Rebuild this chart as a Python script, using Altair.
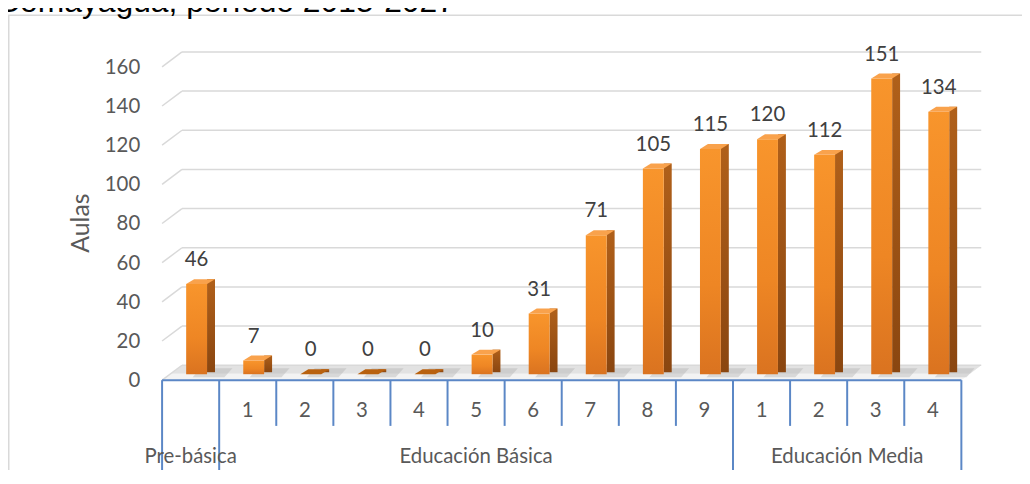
import altair as alt
import pandas as pd

# ---------------- data ----------------
categories = ["", "1", "2", "3", "4", "5", "6", "7", "8", "9", "1", "2", "3", "4"]
groups = ["Pre-básica"] + ["Educación Básica"] * 9 + ["Educación Media"] * 4
values = [46, 7, 0, 0, 0, 10, 31, 71, 105, 115, 120, 112, 151, 134]
y_ticks = [0, 20, 40, 60, 80, 100, 120, 140, 160]
title_text = "Comayagua, período 2015-2027"
y_title = "Aulas"

# ---------------- layout (pixels inside the chart) ----------------
W, H = 1020, 462
X_LEFT, X_RIGHT = 155, 959      # front edge of the floor
Y_ZERO, Y_TOP = 373, 57.8       # front y of 0 and of 160
DX, DY = 20, 15                 # depth of the back wall
BAR_W, SIDE_W, CAP_H = 21, 8, 5
BAR_SHIFT, BAR_LIFT = 6, 6
FONT = "Lato"
GRAY_TXT = "#595959"
GRID = "#D9D9D9"
BLUE = "#5B87C6"

n = len(values)
xs = alt.Scale(domain=[0, n], range=[X_LEFT, X_RIGHT], nice=False, zero=False, padding=0)
ys = alt.Scale(domain=[0, 160], range=[Y_ZERO, Y_TOP], nice=False, zero=True, padding=0)

bars = pd.DataFrame({
    "xc": [i + 0.5 for i in range(n)],
    "value": values,
    "base": [0] * n,
    "cat": categories,
    "group": groups,
})
ticks = pd.DataFrame({"tick": y_ticks, "x0": [0] * len(y_ticks), "x1": [n] * len(y_ticks)})

bounds = []
for i in range(n + 1):
    is_long = i == 0 or i == n or groups[i] != groups[i - 1]
    bounds.append({"pos": i, "kind": "long" if is_long else "short"})
bounds = pd.DataFrame(bounds)

glabels = []
start = 0
for i in range(1, n + 1):
    if i == n or groups[i] != groups[start]:
        glabels.append({"gx": (start + i) / 2, "group": groups[start]})
        start = i
glabels = pd.DataFrame(glabels)

origin = pd.DataFrame({"x0": [0], "x1": [n], "y0": [0]})
one = pd.DataFrame({"k": [0]})

X = lambda f: alt.X(f, scale=xs, axis=None)
Y = lambda f: alt.Y(f, scale=ys, axis=None)

# frame
frame_left = alt.Chart(one).mark_rule(color=GRID, strokeWidth=1.5).encode(
    x=alt.value(0.75), y=alt.value(6), y2=alt.value(H + 10))
frame_top = alt.Chart(one).mark_rule(color=GRID, strokeWidth=1.5).encode(
    x=alt.value(0), x2=alt.value(W), y=alt.value(6))

# floor (parallelogram), lighter at the front, greyer at the back
floor_w = X_RIGHT - X_LEFT
floor_path = f"M 0 0 L {floor_w} 0 L {floor_w + DX} {-DY} L {DX} {-DY} Z"
back_path = (f"M {DX * 0.45} {-DY * 0.45} L {floor_w + DX * 0.45} {-DY * 0.45} "
             f"L {floor_w + DX} {-DY} L {DX} {-DY} Z")
floor = alt.Chart(origin).mark_point(
    shape=floor_path, size=4, filled=True, opacity=1, strokeWidth=0, color="#F3F3F3",
).encode(x=X("x0:Q"), y=Y("y0:Q"))
floor_back = alt.Chart(origin).mark_point(
    shape=back_path, size=4, filled=True, opacity=1, strokeWidth=0, color="#E2E2E2",
).encode(x=X("x0:Q"), y=Y("y0:Q"))

# gridlines on back wall + diagonals
grid_back = alt.Chart(ticks).mark_rule(
    color=GRID, strokeWidth=1.5, xOffset=DX, x2Offset=DX, yOffset=-DY
).encode(x=X("x0:Q"), x2="x1:Q", y=Y("tick:Q"))
grid_diag = alt.Chart(ticks).mark_rule(
    color=GRID, strokeWidth=1.5, x2Offset=DX, y2Offset=-DY
).encode(x=X("x0:Q"), x2="x0:Q", y=Y("tick:Q"), y2="tick:Q")

ylabels = alt.Chart(ticks).mark_text(
    align="right", baseline="middle", yOffset=1, font=FONT, fontSize=20.5, color=GRAY_TXT
).encode(x=alt.value(133), y=Y("tick:Q"), text="tick:Q")

ytitle = alt.Chart(one).mark_text(
    angle=270, align="center", baseline="middle", font=FONT, fontSize=25, color=GRAY_TXT
).encode(x=alt.value(73), y=alt.value(215), text=alt.value(y_title))

# shadows on the floor
shadow_path = "M -4 0 L 28 0 L 36 -9 L 4 -9 Z"
shadows = alt.Chart(bars).mark_point(
    shape=shadow_path, size=4, filled=True, opacity=0.3, strokeWidth=0, color="#9A9A9A",
    xOffset=BAR_SHIFT, yOffset=-3,
).encode(x=X("xc:Q"), y=Y("base:Q"))

# bars: side face, front face, cap
side = alt.Chart(bars).mark_bar(
    width=SIDE_W, xOffset=BAR_SHIFT + BAR_W / 2 + SIDE_W / 2,
    yOffset=-BAR_LIFT - CAP_H, y2Offset=-BAR_LIFT - 2,
    color=alt.Gradient(gradient="linear", x1=0, y1=0, x2=0, y2=1,
                       stops=[alt.GradientStop(color="#B0601A", offset=0),
                              alt.GradientStop(color="#8A4610", offset=1)]),
).encode(x=X("xc:Q"), y=Y("value:Q"), y2="base:Q")

front = alt.Chart(bars).mark_bar(
    width=BAR_W, xOffset=BAR_SHIFT, yOffset=-BAR_LIFT, y2Offset=-BAR_LIFT,
    color=alt.Gradient(gradient="linear", x1=0, y1=0, x2=0, y2=1,
                       stops=[alt.GradientStop(color="#F8952C", offset=0),
                              alt.GradientStop(color="#EE8624", offset=0.6),
                              alt.GradientStop(color="#DA7320", offset=1)]),
).encode(x=X("xc:Q"), y=Y("value:Q"), y2="base:Q")

hw = BAR_W / 2
cap_path = (f"M {-hw} 0 L {hw} 0 L {hw + SIDE_W} {-CAP_H} "
            f"L {-hw + SIDE_W} {-CAP_H} Z")
cap = alt.Chart(bars).mark_point(
    shape=cap_path, size=4, filled=True, opacity=1, strokeWidth=0,
    xOffset=BAR_SHIFT, yOffset=-BAR_LIFT,
).encode(
    x=X("xc:Q"), y=Y("value:Q"),
    color=alt.condition("datum.value == 0", alt.value("#B8610F"), alt.value("#F9A24C")),
)

vlabels = alt.Chart(bars).mark_text(
    align="center", baseline="middle", xOffset=BAR_SHIFT, yOffset=-30,
    font=FONT, fontSize=20.5, color="#404040",
).encode(x=X("xc:Q"), y=Y("value:Q"), text="value:Q")

# category axis
axis_line = alt.Chart(origin).mark_rule(color=BLUE, strokeWidth=2).encode(
    x=X("x0:Q"), x2="x1:Q", y=Y("y0:Q"))
short_ticks = alt.Chart(bounds).transform_filter("datum.kind == 'short'").mark_rule(
    color=BLUE, strokeWidth=2).encode(x=X("pos:Q"), y=alt.value(Y_ZERO), y2=alt.value(419))
long_ticks = alt.Chart(bounds).transform_filter("datum.kind == 'long'").mark_rule(
    color=BLUE, strokeWidth=2).encode(x=X("pos:Q"), y=alt.value(Y_ZERO), y2=alt.value(465))

cat_labels = alt.Chart(bars).mark_text(
    baseline="middle", font=FONT, fontSize=20.5, color=GRAY_TXT
).encode(x=X("xc:Q"), y=alt.value(404), text="cat:N")
group_labels = alt.Chart(glabels).mark_text(
    baseline="middle", font=FONT, fontSize=20.5, color=GRAY_TXT
).encode(x=X("gx:Q"), y=alt.value(450), text="group:N")

title = alt.Chart(one).mark_text(
    align="left", baseline="alphabetic", font="Liberation Sans", fontSize=32, color="#000000"
).encode(x=alt.value(-11), y=alt.value(2.5), text=alt.value(title_text))

chart = alt.layer(
    frame_left, frame_top, floor, floor_back, grid_back, grid_diag, ylabels, ytitle,
    shadows, side, front, cap, vlabels,
    axis_line, short_ticks, long_ticks, cat_labels, group_labels, title,
).properties(
    width=W, height=H, padding=0, autosize=alt.AutoSizeParams(type="none"),
).configure_view(stroke=None)

chart.save("out.html", embed_options={"renderer": "svg", "actions": False})
